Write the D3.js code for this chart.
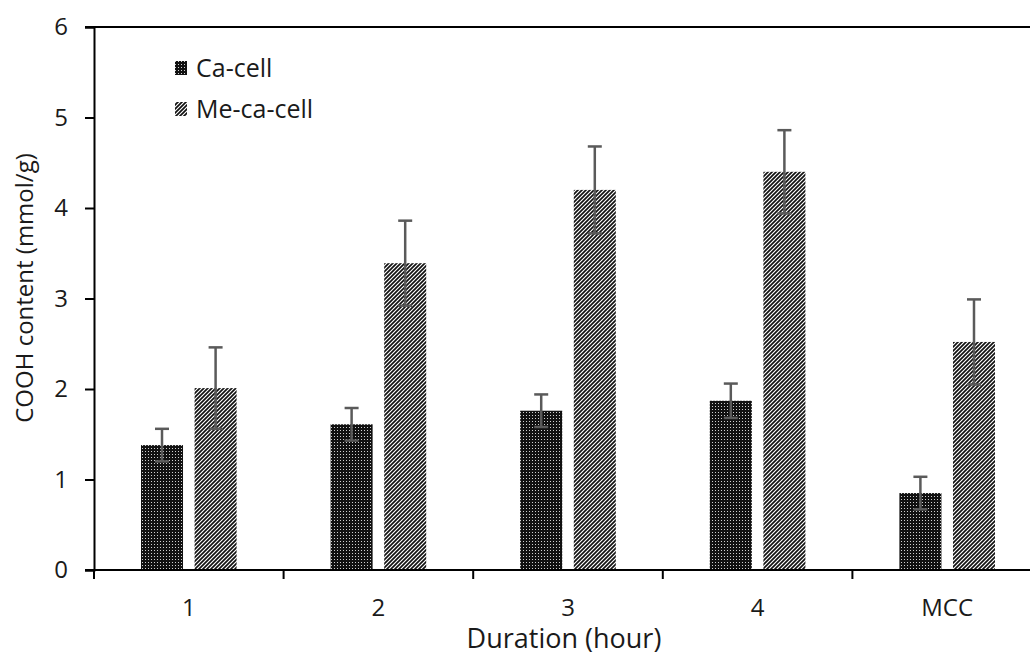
<!DOCTYPE html>
<html>
<head>
<meta charset="utf-8">
<script src="https://cdn.jsdelivr.net/npm/d3@7"></script>
<style>
  html, body { margin: 0; padding: 0; background: #fff; }
  svg { display: block; }
  text { font-family: "Open Sans", "DejaVu Sans", sans-serif; fill: #1a1a1a; }
</style>
</head>
<body>
<svg id="chart" width="1030" height="655"></svg>
<script>
// ---- data ----
const categories = ["1", "2", "3", "4", "MCC"];
const seriesNames = ["Ca-cell", "Me-ca-cell"];
const caCell = [1.38, 1.61, 1.76, 1.87, 0.85];
const caCellErr = [0.18, 0.18, 0.18, 0.19, 0.18];
const meCaCell = [2.01, 3.39, 4.20, 4.40, 2.52];
const meCaCellErr = [0.45, 0.47, 0.48, 0.46, 0.47];
const yTicks = [0, 1, 2, 3, 4, 5, 6];
const xTitle = "Duration (hour)";
const yTitle = "COOH content (mmol/g)";

const svg = d3.select("#chart");
const W = 1030, H = 655;
svg.append("rect").attr("width", W).attr("height", H).attr("fill", "#fff");

// patterns
const defs = svg.append("defs");
const pDots = defs.append("pattern").attr("id", "pDots")
  .attr("patternUnits", "userSpaceOnUse").attr("width", 3).attr("height", 3);
pDots.append("rect").attr("width", 3).attr("height", 3).attr("fill", "#111");
pDots.append("rect").attr("x", 1).attr("y", 1).attr("width", 1).attr("height", 1).attr("fill", "#cfcfcf");
const pStripe = defs.append("pattern").attr("id", "pStripe")
  .attr("patternUnits", "userSpaceOnUse").attr("width", 4).attr("height", 4);
pStripe.append("rect").attr("width", 4).attr("height", 4).attr("fill", "#fff");
pStripe.append("path").attr("d", "M-1,1 L1,-1 M0,4 L4,0 M3,5 L5,3")
  .attr("stroke", "#111").attr("stroke-width", 1.7);
const fills = ["url(#pDots)", "url(#pStripe)"];

// scales
const x = d3.scaleBand().domain(categories).range([94, 1042]).paddingInner(0).paddingOuter(0);
const xs = d3.scaleBand().domain(seriesNames).range([0, x.bandwidth()])
  .paddingInner(0.216).paddingOuter(0.877);
const y = d3.scaleLinear().domain([0, 6]).range([570, 27]);

const series = [
  { name: seriesNames[0], values: caCell, errs: caCellErr },
  { name: seriesNames[1], values: meCaCell, errs: meCaCellErr }
];

// bars
series.forEach((s, si) => {
  const g = svg.append("g");
  g.selectAll("rect").data(categories).join("rect")
    .attr("x", c => x(c) + xs(s.name))
    .attr("width", xs.bandwidth())
    .attr("y", (c, i) => y(s.values[i]))
    .attr("height", (c, i) => y(0) - y(s.values[i]))
    .attr("fill", fills[si]);
});

// error bars
series.forEach((s) => {
  const g = svg.append("g").attr("stroke", "#5a5a5a").attr("stroke-width", 2.5).attr("fill", "none");
  categories.forEach((c, i) => {
    const cx = x(c) + xs(s.name) + xs.bandwidth() / 2;
    const hi = y(s.values[i] + s.errs[i]);
    const lo = y(s.values[i] - s.errs[i]);
    g.append("line").attr("x1", cx).attr("x2", cx).attr("y1", hi).attr("y2", lo);
    g.append("line").attr("x1", cx - 7).attr("x2", cx + 7).attr("y1", hi).attr("y2", hi);
    g.append("line").attr("x1", cx - 7).attr("x2", cx + 7).attr("y1", lo).attr("y2", lo);
  });
});

// top border line
svg.append("line").attr("x1", 85).attr("x2", 1042)
  .attr("y1", y(6)).attr("y2", y(6)).attr("stroke", "#000").attr("stroke-width", 2);

// y axis
const yAxis = d3.axisLeft(y).tickValues(yTicks).tickFormat(d3.format("d")).tickSizeOuter(0).tickSize(9).tickPadding(17);
const gy = svg.append("g").attr("transform", "translate(94,0)").call(yAxis);
gy.select(".domain").attr("stroke", "#000").attr("stroke-width", 2);
gy.selectAll(".tick line").attr("stroke", "#000").attr("stroke-width", 2);
gy.selectAll(".tick text").style("font-size", "24px").style("font-family", "'Open Sans', sans-serif").attr("fill", "#1a1a1a");

// x axis: line and ticks at category boundaries
svg.append("line").attr("x1", 85).attr("x2", 1042).attr("y1", y(0)).attr("y2", y(0))
  .attr("stroke", "#000").attr("stroke-width", 2);
const bounds = categories.map(c => x(c)).concat([x.range()[1]]);
svg.append("g").selectAll("line").data(bounds).join("line")
  .attr("x1", d => d).attr("x2", d => d).attr("y1", y(0)).attr("y2", y(0) + 9)
  .attr("stroke", "#000").attr("stroke-width", 2);
svg.append("g").selectAll("text").data(categories).join("text")
  .attr("x", c => x(c) + x.bandwidth() / 2)
  .attr("y", 616)
  .attr("text-anchor", "middle")
  .style("font-size", "24px")
  .text(c => c);

// axis titles
svg.append("text").attr("x", 564).attr("y", 648).attr("text-anchor", "middle")
  .style("font-size", "27px").text(xTitle);
svg.append("text").attr("transform", "translate(33,288) rotate(-90)").attr("text-anchor", "middle")
  .style("font-size", "24px").text(yTitle);

// legend
const lg = svg.append("g");
series.forEach((s, i) => {
  const cy = 68 + i * 41;
  lg.append("rect").attr("x", 175).attr("y", cy - 7).attr("width", 12).attr("height", 14).attr("fill", fills[i]);
  lg.append("text").attr("x", 196).attr("y", cy).attr("dy", "0.35em")
    .style("font-size", "25px").text(s.name);
});
</script>
</body>
</html>
